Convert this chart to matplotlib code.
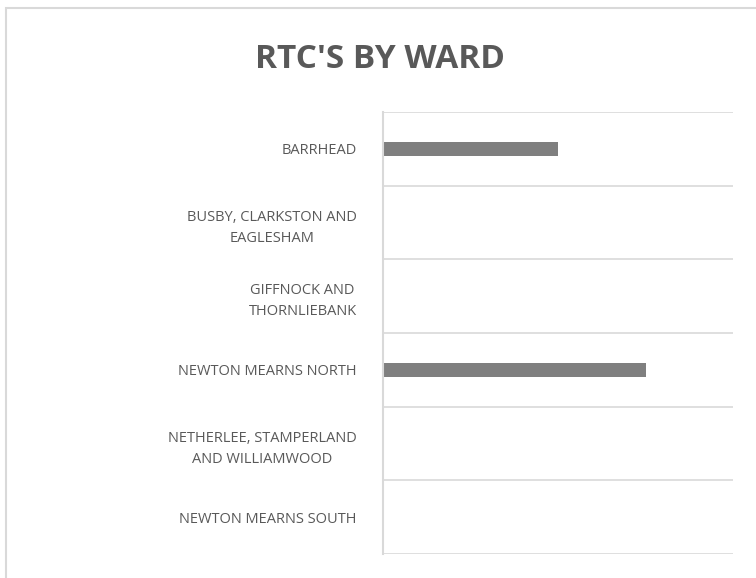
import matplotlib.pyplot as plt
import matplotlib.patches as mpatches
import numpy as np

plt.rcParams['font.family'] = ['Open Sans', 'DejaVu Sans']

wards = ['BARRHEAD',
         'BUSBY, CLARKSTON AND\nEAGLESHAM',
         'GIFFNOCK AND\nTHORNLIEBANK',
         'NEWTON MEARNS NORTH',
         'NETHERLEE, STAMPERLAND\nAND WILLIAMWOOD',
         'NEWTON MEARNS SOUTH']
rtc_counts = [2, 0, 0, 3, 0, 0]

W, H = 756, 578
fig = plt.figure(figsize=(W / 100, H / 100), dpi=100)
ax = fig.add_axes([383 / W, 1 - 554 / H, (733 - 383) / W, (554 - 112) / H])

# chart area frame (cropped at right/bottom like the source)
fig.patches.append(mpatches.Rectangle((6 / W, -0.05), 1.2, 1 - 8 / H + 0.05,
                                      transform=fig.transFigure, fill=False,
                                      edgecolor='#d9d9d9', linewidth=1.5))

y = np.arange(len(wards))
ax.barh(y, rtc_counts, height=0.19, color='#7f7f7f')
ax.set_xlim(0, 4)
ax.set_ylim(len(wards) - 0.5, -0.5)

ax.set_yticks(y)
ax.set_yticklabels(wards, fontsize=10.5, color='#595959',
                   multialignment='center', linespacing=1.55)
ax.set_yticks(np.arange(len(wards) + 1) - 0.5, minor=True)
ax.tick_params(axis='y', which='both', length=0, pad=19)
ax.set_xticks([])
ax.grid(True, axis='y', which='minor', color='#d9d9d9', linewidth=1.2)
ax.set_axisbelow(True)

for s in ['top', 'right', 'bottom']:
    ax.spines[s].set_visible(False)
ax.spines['left'].set_color('#d9d9d9')
ax.spines['left'].set_linewidth(1.5)

fig.text(0.503, 1 - 59 / H, "RTC'S BY WARD", ha='center', va='center',
         fontsize=24, fontweight='bold', color='#595959')

fig.savefig('out.png', dpi=100)
